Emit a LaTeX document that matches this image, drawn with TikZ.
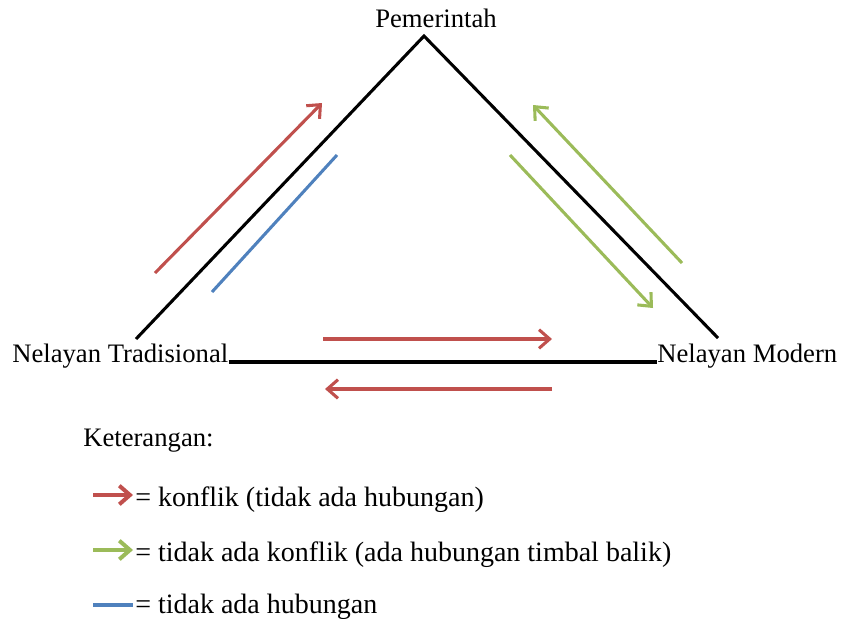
\documentclass[tikz,border=0pt]{standalone}
\usepackage{fontspec}
\setmainfont{Liberation Serif}
\usetikzlibrary{arrows.meta}
\definecolor{relred}{RGB}{192,80,77}
\definecolor{relgreen}{RGB}{155,187,89}
\definecolor{relblue}{RGB}{79,129,189}
\tikzset{
  side/.style = {line width=2.3pt, black},
  rel/.style = {line width=2.3pt, -{Straight Barb[length=8pt,width=14pt]}},
  plainrel/.style = {line width=2.3pt},
  keyrel/.style = {line width=3pt},
  lbl/.style = {inner sep=0pt, font=\fontsize{20}{24}\selectfont},
  keytext/.style = {inner sep=0pt, font=\fontsize{21}{25}\selectfont},
}
\def\drawrel#1#2#3#4{%
  \coordinate (#2-a) at (#3);
  \coordinate (#2-b) at (#4);
  \draw [#1] (#2-a) -- (#2-b);
}

\begin{document}
\begin{tikzpicture}[x=0.75pt, y=-0.75pt]
  \useasboundingbox (0,0) rectangle (841,618);

  % triangle
  \node [lbl, anchor=base] (pem) at (436,27) {Pemerintah};
  \node [lbl, anchor=base west] (trad) at (12,362) {Nelayan Tradisional};
  \node [lbl, anchor=base west] (mod) at (657,362) {Nelayan Modern};
  \coordinate (top) at (424,36);
  \coordinate (left) at (136,339);
  \coordinate (right) at (718,338);
  \draw [side] (left) -- (top) -- (right);
  \draw [side] (trad.base east) -- (mod.base west);

  % relations
  \drawrel{rel, relred}{tradpem}{155,273}{322,103}
  \drawrel{plainrel, relblue}{pemtrad}{212,292}{337,155}
  \drawrel{rel, relgreen}{modpem}{682,263}{533,105}
  \drawrel{rel, relgreen}{pemmod}{510,155}{653,308}
  \drawrel{rel, relred}{tradmod}{323,339}{552,339}
  \drawrel{rel, relred}{modtrad}{552,389}{325,389}

  % legend
  \node [lbl, anchor=base west] (ket) at (83,446) {Keterangan:};
  \drawrel{rel, keyrel, relred}{keyred}{93,495}{133,495}
  \node [keytext, anchor=base west] (keyredtxt) at (135,506) {= konflik (tidak ada hubungan)};
  \drawrel{rel, keyrel, relgreen}{keygreen}{93,550}{133,550}
  \node [keytext, anchor=base west] (keygreentxt) at (135,561) {= tidak ada konflik (ada hubungan timbal balik)};
  \drawrel{plainrel, keyrel, relblue}{keyblue}{93,605}{133,605}
  \node [keytext, anchor=base west] (keybluetxt) at (135,613) {= tidak ada hubungan};

\end{tikzpicture}
\end{document}
